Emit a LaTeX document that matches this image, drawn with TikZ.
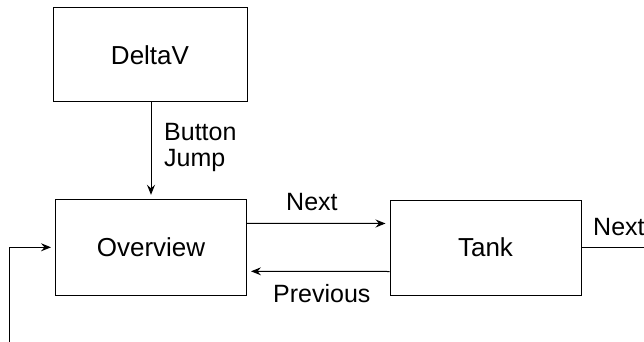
\documentclass[tikz,border=0pt]{standalone}
\usepackage{fontspec}
\setmainfont{Liberation Sans}
\usetikzlibrary{arrows.meta,calc}
\begin{document}
\begin{tikzpicture}[x=1pt,y=-1pt,
  box/.style={draw=black,line width=1pt,inner sep=0pt,font=\fontsize{26}{27}\selectfont},
  lbl/.style={inner sep=0pt,font=\fontsize{25}{26}\selectfont,anchor=base west,align=left},
  conn/.style={draw=black,line width=1pt},
  arr/.style={conn,-{Stealth[length=10pt,width=8pt,inset=3.5pt]},shorten >=4pt}]
\useasboundingbox (0,0) rectangle (644,342);
\clip (0,0) rectangle (644,342);
\node[box,minimum width=194pt,minimum height=94pt] (delta) at (150,55) {DeltaV};
\node[box,minimum width=191pt,minimum height=96pt] (ov) at (151,247.3) {Overview};
\node[box,minimum width=191pt,minimum height=95pt] (tank) at (485.5,247.5) {Tank};
\coordinate (rend) at (650,247.5);
\coordinate (lstart) at (9,345);
\draw[arr] (delta.south -| ov.north) -- (ov.north);
\draw[arr] ([yshift=24pt]ov.east) -- ([yshift=24pt]tank.west);
\draw[arr] ([yshift=-24pt]tank.west) -- ([yshift=-24pt]ov.east);
\draw[conn] (tank.east) -- (rend);
\draw[arr] (lstart) |- (ov.west);
\node[lbl] (bj) at (164,166) {Button\\Jump};
\node[lbl] (nx) at (286,210.5) {Next};
\node[lbl] (pv) at (273,302) {Previous};
\node[lbl] (nx2) at (593,235.5) {Next};
\end{tikzpicture}
\end{document}
